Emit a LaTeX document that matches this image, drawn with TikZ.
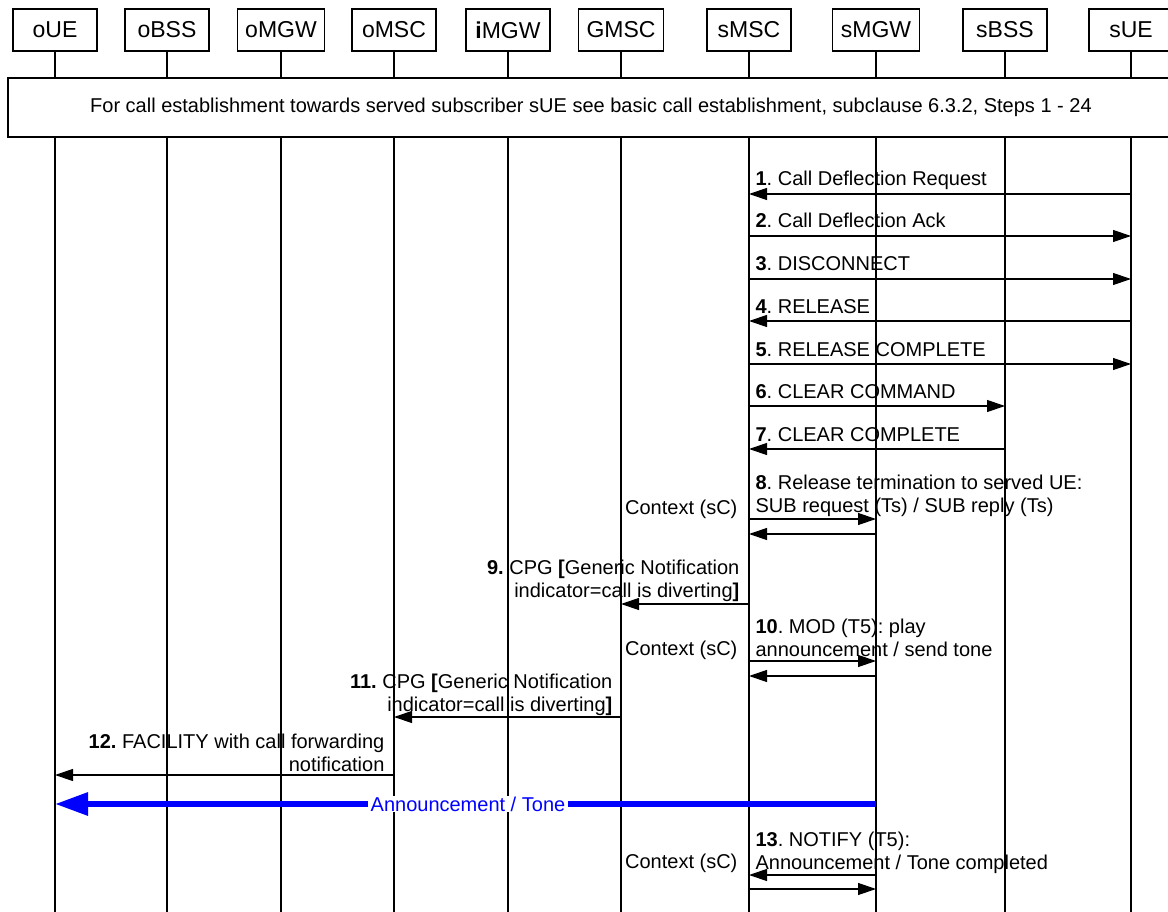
\documentclass[tikz,border=0pt]{standalone}
\usepackage{fontspec}
\setmainfont{Liberation Sans}
\usetikzlibrary{arrows.meta}
\frenchspacing

\begin{document}
\begin{tikzpicture}[x=1pt,y=-1pt,line width=1.2pt,>={Triangle[length=18pt,width=12pt]},
  ent/.style={draw,minimum width=84pt,minimum height=42pt,inner xsep=8pt,
    font=\fontsize{23}{26}\selectfont},
  msg/.style={->},
  lbl/.style={inner sep=0pt,align=left,font=\fontsize{20}{23}\selectfont},
  rlbl/.style={lbl,align=right},
  tone/.style={draw=blue,line width=6pt,-{Triangle[length=33pt,width=22pt]}}]
\useasboundingbox (0,0) rectangle (1168,912);
% ---------- entities ----------
\foreach \n/\x/\t in {oUE/55/oUE,oBSS/167/oBSS,oMGW/281/oMGW,oMSC/394/oMSC,
    iMGW/508/{\textbf{i}MGW},GMSC/621/GMSC,sMSC/749/sMSC,sMGW/876/sMGW,
    sBSS/1005/sBSS,sUE/1131/sUE}
  \node[ent] (\n) at (\x,30) {\t};
% call establishment box
\node[draw,lbl,minimum width=1166pt,minimum height=59pt] (est) at (591,107.5)
  {For call establishment towards served subscriber sUE see basic call establishment, subclause 6.3.2, Steps 1 - 24};
% lifelines
\coordinate (bot) at (0,912);
\foreach \n in {oUE,oBSS,oMGW,oMSC,iMGW,GMSC,sMSC,sMGW,sBSS,sUE}{
  \draw (\n.south) -- (\n |- est.north);
  \draw (\n |- est.south) -- (\n |- bot);
}
% ---------- steps 1 - 7 ----------
\draw[msg] (sUE |- 0,194) -- (sMSC |- 0,194);
\node[lbl,anchor=base west,xshift=6pt] (m1) at (sMSC |- 0,186) {\textbf{1}. Call Deflection Request};
\draw[msg] (sMSC |- 0,236) -- (sUE |- 0,236);
\node[lbl,anchor=base west,xshift=6pt] (m2) at (sMSC |- 0,228) {\textbf{2}. Call Deflection Ack};
\draw[msg] (sMSC |- 0,279) -- (sUE |- 0,279);
\node[lbl,anchor=base west,xshift=6pt] (m3) at (sMSC |- 0,271) {\textbf{3}. DISCONNECT};
\draw[msg] (sUE |- 0,321) -- (sMSC |- 0,321);
\node[lbl,anchor=base west,xshift=6pt] (m4) at (sMSC |- 0,313) {\textbf{4}. RELEASE};
\draw[msg] (sMSC |- 0,364) -- (sUE |- 0,364);
\node[lbl,anchor=base west,xshift=6pt] (m5) at (sMSC |- 0,356) {\textbf{5}. RELEASE COMPLETE};
\draw[msg] (sMSC |- 0,406) -- (sBSS |- 0,406);
\node[lbl,anchor=base west,xshift=6pt] (m6) at (sMSC |- 0,398) {\textbf{6}. CLEAR COMMAND};
\draw[msg] (sBSS |- 0,449) -- (sMSC |- 0,449);
\node[lbl,anchor=base west,xshift=6pt] (m7) at (sMSC |- 0,441) {\textbf{7}. CLEAR COMPLETE};
% ---------- step 8 ----------
\node[lbl,anchor=base west,xshift=6pt] (m8) at (sMSC |- 0,512)
  {\textbf{8}. Release termination to served UE:\\SUB request (Ts) / SUB reply (Ts)};
\node[lbl,anchor=base east,xshift=-11pt] (c8) at (sMSC |- 0,514) {Context (sC)};
\draw[msg] (sMSC |- 0,519) -- (sMGW |- 0,519);
\draw[msg] (sMGW |- 0,534) -- (sMSC |- 0,534);
% ---------- step 9 ----------
\node[rlbl,anchor=base east,xshift=-9pt] (m9) at (sMSC |- 0,597)
  {\textbf{9.} CPG \textbf{[}Generic Notification\\indicator=call is diverting\textbf{]}};
\draw[msg] (sMSC |- 0,604) -- (GMSC |- 0,604);
% ---------- step 10 ----------
\node[lbl,anchor=base west,xshift=6pt] (m10) at (sMSC |- 0,656)
  {\textbf{10}. MOD (T5): play\\announcement / send tone};
\node[lbl,anchor=base east,xshift=-11pt] (c10) at (sMSC |- 0,655) {Context (sC)};
\draw[msg] (sMSC |- 0,661) -- (sMGW |- 0,661);
\draw[msg] (sMGW |- 0,676) -- (sMSC |- 0,676);
% ---------- step 11 ----------
\node[rlbl,anchor=base east,xshift=-8pt] (m11) at (GMSC |- 0,711)
  {\textbf{11.} CPG \textbf{[}Generic Notification\\indicator=call is diverting\textbf{]}};
\draw[msg] (GMSC |- 0,717) -- (oMSC |- 0,717);
% ---------- step 12 ----------
\node[rlbl,anchor=base east,xshift=-9pt] (m12) at (oMSC |- 0,771)
  {\textbf{12.} FACILITY with call forwarding\\notification};
\draw[msg] (oMSC |- 0,775) -- (oUE |- 0,775);
% announcement / tone
\draw[tone] (sMGW |- 0,804) -- (oUE |- 0,804)
  node[pos=0.497,fill=white,text=blue,inner xsep=3pt,inner ysep=1pt,
    font=\fontsize{20}{23}\selectfont] (ann) {Announcement / Tone};
% ---------- step 13 ----------
\node[lbl,anchor=base west,xshift=6pt] (m13) at (sMSC |- 0,869)
  {\textbf{13}. NOTIFY (T5):\\Announcement / Tone completed};
\node[lbl,anchor=base east,xshift=-11pt] (c13) at (sMSC |- 0,868) {Context (sC)};
\draw[msg] (sMGW |- 0,875) -- (sMSC |- 0,875);
\draw[msg] (sMSC |- 0,889) -- (sMGW |- 0,889);
\end{tikzpicture}
\end{document}
